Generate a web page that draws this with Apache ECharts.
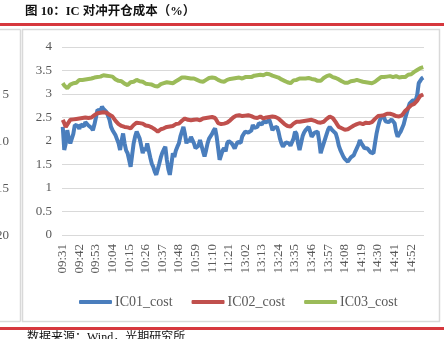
<!DOCTYPE html>
<html>
<head>
<meta charset="utf-8">
<script src="https://cdn.jsdelivr.net/npm/echarts@6/dist/echarts.min.js"></script>
<style>
html,body{margin:0;padding:0;background:#fff;}
#chart{width:444px;height:339px;}
</style>
</head>
<body>
<div id="chart"></div>
<script>
// Intraday trading minutes: 09:31-11:30 and 13:01-15:00
function buildTimes() {
  var out = [];
  function push(h0, m0, count) {
    var h = h0, m = m0;
    for (var i = 0; i < count; i++) {
      out.push((h < 10 ? '0' : '') + h + ':' + (m < 10 ? '0' : '') + m);
      m++; if (m === 60) { m = 0; h++; }
    }
  }
  push(9, 31, 120);
  push(13, 1, 120);
  return out;
}
var times = buildTimes();

var seriesNames = ['IC01_cost', 'IC02_cost', 'IC03_cost'];

var ic01 = [
  2.30,1.81,1.95,2.23,2.05,1.95,1.91,2.15,2.34,2.30,
  2.32,2.26,2.35,2.38,2.31,2.40,2.41,2.33,2.37,2.28,
  2.23,2.35,2.50,2.66,2.70,2.64,2.73,2.68,2.70,2.62,
  2.64,2.45,2.30,2.23,2.26,2.12,2.09,1.95,1.81,2.00,
  2.16,1.95,1.80,1.74,1.60,1.45,1.70,1.95,2.10,2.20,
  2.23,2.05,1.90,1.74,1.85,1.79,1.95,1.80,1.65,1.52,
  1.45,1.35,1.28,1.40,1.52,1.65,1.75,1.82,1.88,1.60,
  1.40,1.28,1.50,1.74,1.66,1.80,1.88,1.95,2.10,2.20,
  2.30,2.15,1.95,2.04,1.98,2.09,2.02,1.95,1.85,1.81,
  1.90,2.02,1.90,1.78,1.67,1.80,1.95,2.05,2.09,2.15,
  2.22,2.27,2.10,1.85,1.60,1.70,1.80,1.85,1.78,1.95,
  2.00,2.02,1.95,1.90,1.84,1.92,1.98,2.02,1.96,2.10,
  2.15,2.20,2.23,2.18,2.16,2.22,2.34,2.28,2.25,2.30,
  2.38,2.41,2.35,2.41,2.43,2.40,2.44,2.45,2.35,2.23,
  2.28,2.30,2.30,2.20,2.05,1.95,1.88,1.92,1.97,1.99,
  1.95,1.90,1.92,2.05,2.20,2.15,1.95,1.81,1.95,2.10,
  2.18,2.23,2.26,2.30,2.20,2.09,2.12,2.18,2.15,2.20,
  2.00,1.74,1.85,1.95,2.05,2.15,2.25,2.30,2.27,2.22,
  2.18,2.16,2.05,1.90,1.81,1.74,1.67,1.62,1.58,1.56,
  1.60,1.65,1.68,1.70,1.78,1.85,1.92,2.02,1.95,1.90,
  1.85,1.88,1.84,1.80,1.76,1.75,1.74,1.95,2.15,2.30,
  2.42,2.50,2.55,2.50,2.42,2.38,2.40,2.44,2.46,2.45,
  2.38,2.20,2.09,2.15,2.20,2.23,2.35,2.48,2.59,2.70,
  2.80,2.83,2.86,2.88,2.87,2.98,3.23,3.28,3.33,3.35
];

var ic02 = [
  2.45,2.38,2.30,2.33,2.40,2.45,2.43,2.46,2.44,2.47,
  2.45,2.48,2.46,2.49,2.48,2.50,2.47,2.49,2.52,2.50,
  2.53,2.55,2.57,2.59,2.58,2.60,2.58,2.61,2.59,2.60,
  2.58,2.56,2.54,2.52,2.48,2.43,2.39,2.36,2.34,2.32,
  2.33,2.30,2.31,2.29,2.28,2.27,2.31,2.34,2.37,2.39,
  2.41,2.38,2.36,2.37,2.34,2.33,2.31,2.32,2.30,2.29,
  2.27,2.25,2.22,2.20,2.23,2.25,2.24,2.27,2.29,2.30,
  2.28,2.31,2.33,2.32,2.35,2.36,2.38,2.37,2.40,2.43,
  2.45,2.48,2.47,2.45,2.46,2.44,2.47,2.45,2.43,2.46,
  2.45,2.44,2.46,2.48,2.47,2.49,2.51,2.50,2.52,2.51,
  2.52,2.49,2.44,2.38,2.34,2.36,2.38,2.37,2.40,2.39,
  2.41,2.44,2.47,2.50,2.52,2.54,2.53,2.55,2.54,2.53,
  2.52,2.54,2.53,2.55,2.55,2.53,2.52,2.50,2.51,2.49,
  2.50,2.52,2.50,2.48,2.49,2.50,2.52,2.51,2.53,2.52,
  2.50,2.51,2.52,2.48,2.45,2.42,2.39,2.36,2.34,2.32,
  2.30,2.31,2.34,2.37,2.39,2.41,2.40,2.41,2.43,2.42,
  2.44,2.43,2.45,2.44,2.46,2.45,2.45,2.43,2.41,2.40,
  2.38,2.39,2.38,2.41,2.44,2.47,2.50,2.52,2.52,2.49,
  2.45,2.40,2.35,2.30,2.30,2.27,2.25,2.24,2.23,2.25,
  2.27,2.29,2.31,2.33,2.35,2.36,2.37,2.38,2.37,2.36,
  2.38,2.39,2.37,2.38,2.38,2.40,2.43,2.47,2.51,2.53,
  2.55,2.54,2.56,2.55,2.57,2.58,2.59,2.58,2.57,2.56,
  2.55,2.53,2.54,2.52,2.52,2.55,2.59,2.64,2.68,2.70,
  2.73,2.76,2.77,2.79,2.82,2.86,2.91,2.96,2.98,2.99
];

var ic03 = [
  3.23,3.18,3.14,3.12,3.16,3.20,3.19,3.23,3.25,3.24,
  3.27,3.30,3.28,3.30,3.32,3.31,3.33,3.32,3.34,3.33,
  3.33,3.35,3.34,3.36,3.38,3.37,3.39,3.40,3.38,3.39,
  3.37,3.38,3.36,3.37,3.34,3.31,3.30,3.28,3.26,3.27,
  3.24,3.22,3.20,3.19,3.22,3.25,3.27,3.26,3.29,3.30,
  3.28,3.27,3.25,3.26,3.24,3.22,3.23,3.21,3.19,3.20,
  3.18,3.17,3.19,3.16,3.18,3.21,3.20,3.23,3.24,3.25,
  3.26,3.24,3.25,3.23,3.23,3.27,3.29,3.31,3.33,3.35,
  3.37,3.35,3.36,3.34,3.35,3.33,3.34,3.33,3.31,3.30,
  3.28,3.27,3.29,3.26,3.28,3.30,3.32,3.34,3.33,3.35,
  3.37,3.34,3.31,3.30,3.28,3.27,3.29,3.26,3.28,3.30,
  3.31,3.32,3.33,3.33,3.32,3.34,3.33,3.35,3.34,3.33,
  3.35,3.36,3.35,3.36,3.37,3.36,3.38,3.39,3.38,3.40,
  3.40,3.41,3.39,3.40,3.42,3.43,3.41,3.42,3.40,3.39,
  3.38,3.37,3.37,3.35,3.33,3.31,3.30,3.28,3.26,3.25,
  3.24,3.23,3.26,3.29,3.31,3.30,3.32,3.33,3.31,3.33,
  3.34,3.33,3.32,3.34,3.33,3.32,3.30,3.31,3.29,3.28,
  3.26,3.28,3.31,3.34,3.36,3.38,3.39,3.40,3.38,3.36,
  3.35,3.34,3.33,3.31,3.29,3.27,3.26,3.24,3.23,3.24,
  3.25,3.27,3.26,3.28,3.29,3.30,3.29,3.28,3.27,3.26,
  3.27,3.25,3.26,3.24,3.25,3.23,3.23,3.26,3.29,3.31,
  3.34,3.36,3.37,3.36,3.38,3.37,3.36,3.38,3.37,3.36,
  3.37,3.38,3.37,3.35,3.34,3.36,3.33,3.36,3.39,3.41,
  3.43,3.42,3.45,3.47,3.49,3.51,3.53,3.55,3.57,3.57
];

var yTicks = { min: 0, max: 4, interval: 0.5 };
var sideLabels = ['5', '10', '15', '20'];

var serif = '"Liberation Serif", "Times New Roman", serif';
var cjk = '"Liberation Serif", "Noto Sans CJK SC", serif';
var axisGrey = '#595959';
var frameGrey = '#d9d9d9';
var accentRed = '#d6373d';

var chart = echarts.init(document.getElementById('chart'), null, { renderer: 'canvas' });

var sideTexts = sideLabels.map(function (t, i) {
  return {
    type: 'text',
    right: 444 - 9,
    top: 88 + i * 47,
    style: { text: t, fill: axisGrey, font: '13px ' + serif, textAlign: 'right' }
  };
});

chart.setOption({
  animation: false,
  color: ['#4a7ebd', '#c0504d', '#9bbb59'],
  grid: { left: 62, right: 20, top: 47, bottom: 104 },
  xAxis: {
    type: 'category',
    data: times,
    boundaryGap: true,
    axisLine: { show: false },
    axisTick: { show: false },
    axisLabel: {
      interval: 10,
      rotate: 90,
      margin: 9,
      color: axisGrey,
      fontFamily: serif,
      fontSize: 13
    }
  },
  yAxis: {
    type: 'value',
    min: yTicks.min,
    max: yTicks.max,
    interval: yTicks.interval,
    axisLine: { show: false },
    axisTick: { show: false },
    splitLine: { lineStyle: { color: frameGrey, width: 1 } },
    axisLabel: { margin: 10, color: axisGrey, fontFamily: serif, fontSize: 13 }
  },
  legend: {
    left: 74,
    top: 290,
    itemWidth: 33,
    itemHeight: 4,
    itemGap: 19,
    icon: 'roundRect',
    textStyle: { color: axisGrey, fontFamily: serif, fontSize: 14, padding: [0, 0, 0, -2] },
    data: seriesNames
  },
  series: [
    { name: seriesNames[0], type: 'line', data: ic01, showSymbol: false, lineStyle: { width: 4 } },
    { name: seriesNames[1], type: 'line', data: ic02, showSymbol: false, lineStyle: { width: 4 } },
    { name: seriesNames[2], type: 'line', data: ic03, showSymbol: false, lineStyle: { width: 4 } }
  ],
  graphic: [
    { type: 'text', left: 25, top: 6, style: { text: '图 10：IC 对冲开仓成本（%）', fill: '#111', font: 'bold 12.5px ' + cjk } },
    { type: 'rect', shape: { x: 0, y: 23, width: 444, height: 3 }, style: { fill: accentRed } },
    { type: 'rect', shape: { x: 22.5, y: 29.5, width: 417, height: 292 }, style: { fill: 'none', stroke: frameGrey, lineWidth: 1.5 } },
    { type: 'line', shape: { x1: 0, y1: 29.5, x2: 20.5, y2: 29.5 }, style: { stroke: frameGrey, lineWidth: 1.5 } },
    { type: 'line', shape: { x1: 20.5, y1: 29.5, x2: 20.5, y2: 321.5 }, style: { stroke: frameGrey, lineWidth: 1.5 } },
    { type: 'line', shape: { x1: 0, y1: 321.5, x2: 20.5, y2: 321.5 }, style: { stroke: frameGrey, lineWidth: 1.5 } },
    { type: 'rect', shape: { x: 0, y: 327, width: 444, height: 3 }, style: { fill: accentRed } },
    { type: 'text', left: 27, top: 332, style: { text: '数据来源：Wind，光期研究所', fill: '#111', font: '12px ' + cjk } }
  ].concat(sideTexts)
});
</script>
</body>
</html>
